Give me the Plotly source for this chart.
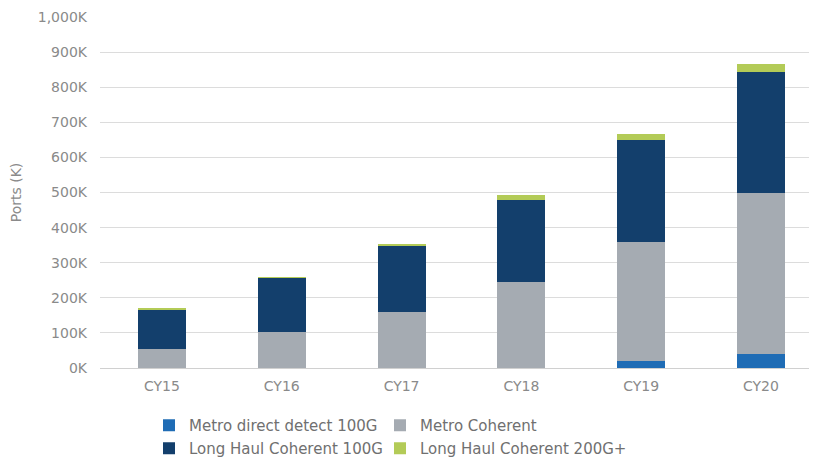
import plotly.graph_objects as go

categories = ["CY15", "CY16", "CY17", "CY18", "CY19", "CY20"]
metro_dd_100g = [0, 0, 0, 0, 20, 40]
metro_coherent = [54, 103, 159, 244, 340, 460]
lh_coherent_100g = [114, 154, 190, 234, 291, 344]
lh_coherent_200g = [2, 2, 4, 15, 17, 22]

tick_vals = [0, 100, 200, 300, 400, 500, 600, 700, 800, 900, 1000]
tick_text = ["0K", "100K", "200K", "300K", "400K", "500K", "600K", "700K", "800K", "900K", "1,000K"]

series = [
    ("Metro direct detect 100G", metro_dd_100g, "#1f6cb5"),
    ("Metro Coherent", metro_coherent, "#a5abb2"),
    ("Long Haul Coherent 100G", lh_coherent_100g, "#133f6c"),
    ("Long Haul Coherent 200G+", lh_coherent_200g, "#b3cb57"),
]
legend_ids = ["legend", "legend2", "legend3", "legend4"]

fig = go.Figure()
for (name, vals, color), lg in zip(series, legend_ids):
    fig.add_trace(go.Bar(x=categories, y=vals, name=name, marker_color=color,
                         marker_line_width=0, legend=lg))

font_family = "'DejaVu Sans', sans-serif"
# page body adds an 8px offset, so the figure is 8px smaller than the window
W, H = 809, 461
col_x = [141 / W, 372 / W]
row_y = [1 - 401 / H, 1 - 424 / H]
legend_common = dict(orientation="h", xanchor="left", yanchor="top",
                     xref="container", yref="container", itemwidth=30,
                     font=dict(family=font_family, size=15, color="#707070"),
                     bgcolor="rgba(0,0,0,0)")
fig.update_layout(
    width=W, height=H,
    barmode="stack", bargap=0.6,
    paper_bgcolor="white", plot_bgcolor="white",
    margin=dict(l=92, r=5, t=9, b=101),
    font=dict(family=font_family, size=14, color="#8a8a8a"),
    showlegend=True,
    legend=dict(x=col_x[0], y=row_y[0], **legend_common),
    legend2=dict(x=col_x[1], y=row_y[0], **legend_common),
    legend3=dict(x=col_x[0], y=row_y[1], **legend_common),
    legend4=dict(x=col_x[1], y=row_y[1], **legend_common),
)
fig.update_xaxes(range=[-0.5175, 5.426], showgrid=False, showline=False, ticks="",
                 automargin=False, ticklabelstandoff=8,
                 tickfont=dict(size=14, color="#8a8a8a"))
fig.update_yaxes(range=[0, 1000], tickvals=tick_vals, ticktext=tick_text,
                 showgrid=True, gridcolor="#dcdcdc", gridwidth=1,
                 zeroline=True, zerolinecolor="#d0d0d0", zerolinewidth=1,
                 ticks="", ticklabelstandoff=12, automargin=False,
                 title=dict(text="Ports (K)", font=dict(size=14, color="#8a8a8a"), standoff=13),
                 tickfont=dict(size=14, color="#8a8a8a"))

fig.write_html("out.html")
